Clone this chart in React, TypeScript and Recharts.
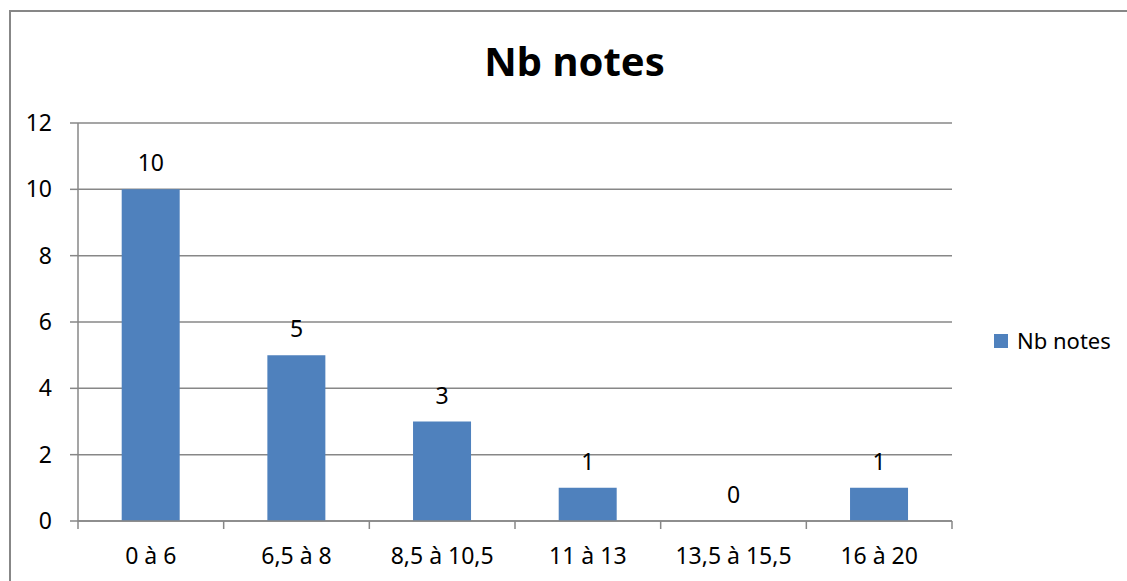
import React from "react";
import { ComposedChart, Bar, Line, XAxis, YAxis, CartesianGrid, Legend, LabelList } from "recharts";

const categories = ["0 à 6", "6,5 à 8", "8,5 à 10,5", "11 à 13", "13,5 à 15,5", "16 à 20"];
const counts = [10, 5, 3, 1, 0, 1];
const yTicks = [0, 2, 4, 6, 8, 10, 12];
const seriesName = "Nb notes";
const titleText = "Nb notes";

const data = categories.map((c, i) => ({ cat: c, count: counts[i] }));

const FONT = "'Noto Sans', 'Open Sans', sans-serif";
const GRID = "#878787";
const BAR = "#4F81BD";

const XTick = (props: any) => {
  const { x, y, payload, index, visibleTicksCount } = props;
  const half = payload && typeof payload.offset === "number" ? payload.offset : 0;
  const axisY = y - 27;
  const last = index === visibleTicksCount - 1;
  return (
    <g>
      <line x1={x - half} x2={x - half} y1={axisY} y2={axisY + 8} stroke={GRID} strokeWidth={1.5} />
      {last && (
        <line x1={x + half} x2={x + half} y1={axisY} y2={axisY + 8} stroke={GRID} strokeWidth={1.5} />
      )}
      <text x={x} y={y} dy="0.71em" textAnchor="middle" fill="#000" fontSize={23} fontFamily={FONT}>
        {payload.value}
      </text>
    </g>
  );
};

const LegendContent = (props: any) => {
  const { payload } = props;
  return (
    <div style={{ fontFamily: FONT }}>
      {(payload || [])
        .filter((p: any) => p.type !== "none")
        .map((p: any) => (
          <div key={p.value} style={{ display: "flex", alignItems: "center", height: 28 }}>
            <div style={{ width: 14, height: 14, background: p.color, marginRight: 9, marginTop: 2 }} />
            <span style={{ fontSize: 22, lineHeight: "28px", color: "#000" }}>{p.value}</span>
          </div>
        ))}
    </div>
  );
};

export default function App() {
  return (
    <div
      style={{
        position: "absolute",
        left: 0,
        top: 0,
        width: 1127,
        height: 581,
        overflow: "hidden",
        background: "#fff",
        fontFamily: FONT,
      }}
    >
      <div
        style={{
          position: "absolute",
          left: 9,
          top: 10,
          width: 1300,
          height: 800,
          border: `2px solid ${GRID}`,
          boxSizing: "border-box",
        }}
      />
      <div
        style={{
          position: "absolute",
          left: 0,
          top: 41,
          width: 1149,
          textAlign: "center",
          fontSize: 40,
          lineHeight: "40px",
          fontWeight: 700,
          color: "#000",
        }}
      >
        {titleText}
      </div>
      <div style={{ position: "absolute", left: 0, top: 0 }}>
        <ComposedChart
          width={1127}
          height={581}
          data={data}
          margin={{ top: 123, right: 175, bottom: 0, left: 0 }}
          barCategoryGap="30%"
        >
          <CartesianGrid vertical={false} stroke={GRID} strokeWidth={1.5} />
          <XAxis
            dataKey="cat"
            height={60}
            axisLine={{ stroke: GRID, strokeWidth: 1.5 }}
            tickLine={false}
            tickSize={8}
            tickMargin={19}
            interval={0}
            tick={<XTick />}
          />
          <YAxis
            width={78}
            domain={[0, 12]}
            ticks={yTicks}
            interval={0}
            axisLine={{ stroke: GRID, strokeWidth: 1.5 }}
            tickLine={{ stroke: GRID, strokeWidth: 1.5 }}
            tickSize={8}
            tickMargin={18}
            tick={{ fill: "#000", fontSize: 23, fontFamily: FONT }}
          />
          <Legend
            layout="vertical"
            align="center"
            verticalAlign="middle"
            content={<LegendContent />}
            wrapperStyle={{ left: 994, top: 326, width: 130 }}
          />
          <Bar dataKey="count" name={seriesName} fill={BAR} isAnimationActive={false} />
          <Line
            dataKey="count"
            name="labels"
            legendType="none"
            stroke="none"
            dot={false}
            activeDot={false}
            isAnimationActive={false}
          >
            <LabelList
              dataKey="count"
              position="top"
              offset={18}
              fill="#000"
              fontSize={23}
              fontFamily={FONT}
            />
          </Line>
        </ComposedChart>
      </div>
    </div>
  );
}
